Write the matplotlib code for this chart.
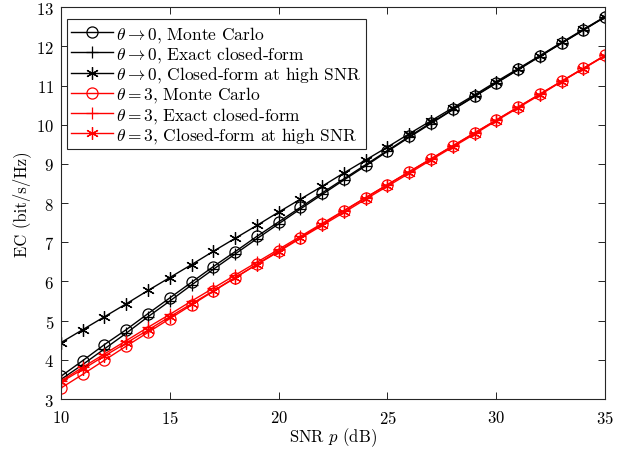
import matplotlib
matplotlib.use("Agg")
import matplotlib.pyplot as plt

plt.rcParams['font.family'] = 'cmr10'
plt.rcParams['mathtext.fontset'] = 'cm'
plt.rcParams['axes.formatter.use_mathtext'] = True

snr_db = list(range(10, 36))

black_mc = [3.58, 3.98, 4.39, 4.77, 5.18, 5.58, 5.98, 6.38, 6.76, 7.15, 7.52, 7.89, 8.26,
            8.62, 8.98, 9.34, 9.70, 10.05, 10.39, 10.73, 11.07, 11.41, 11.75, 12.08, 12.42, 12.75]
black_exact = [3.50, 3.88, 4.28, 4.68, 5.10, 5.50, 5.91, 6.31, 6.70, 7.09, 7.47, 7.85, 8.22,
               8.59, 8.95, 9.32, 9.68, 10.03, 10.38, 10.72, 11.06, 11.40, 11.74, 12.08, 12.41, 12.75]
black_high = [4.44, 4.77, 5.10, 5.43, 5.77, 6.10, 6.43, 6.77, 7.10, 7.43, 7.77, 8.10, 8.43,
              8.77, 9.10, 9.43, 9.77, 10.10, 10.43, 10.76, 11.10, 11.43, 11.76, 12.10, 12.43, 12.76]
red_mc = [3.28, 3.63, 3.99, 4.35, 4.70, 5.05, 5.40, 5.75, 6.09, 6.44, 6.78, 7.12, 7.46,
          7.80, 8.14, 8.47, 8.80, 9.13, 9.46, 9.79, 10.12, 10.45, 10.78, 11.11, 11.44, 11.77]
red_exact = [3.46, 3.81, 4.15, 4.49, 4.83, 5.16, 5.50, 5.83, 6.16, 6.49, 6.82, 7.15, 7.48,
             7.81, 8.14, 8.47, 8.80, 9.13, 9.46, 9.79, 10.12, 10.45, 10.78, 11.11, 11.44, 11.77]
red_high = [3.43, 3.76, 4.10, 4.43, 4.76, 5.10, 5.43, 5.76, 6.10, 6.43, 6.76, 7.10, 7.43,
            7.76, 8.10, 8.43, 8.76, 9.10, 9.43, 9.76, 10.10, 10.43, 10.76, 11.10, 11.43, 11.76]

labels = [r'$\theta \rightarrow 0$, Monte Carlo',
          r'$\theta \rightarrow 0$, Exact closed-form',
          r'$\theta \rightarrow 0$, Closed-form at high SNR',
          r'$\theta = 3$, Monte Carlo',
          r'$\theta = 3$, Exact closed-form',
          r'$\theta = 3$, Closed-form at high SNR']

fig = plt.figure(figsize=(6.35, 4.52), dpi=100)
ax = fig.add_axes([0.096, 0.115, 0.857, 0.867])

series = [(black_mc, 'k', 'o'), (black_exact, 'k', '+'), (black_high, 'k', 'star'),
          (red_mc, 'r', 'o'), (red_exact, 'r', '+'), (red_high, 'r', 'star')]
for (vals, c, m), lab in zip(series, labels):
    if m == 'o':
        kw = dict(marker='o', markersize=8, markerfacecolor='none')
    elif m == '+':
        kw = dict(marker='+', markersize=9)
    else:
        kw = dict(marker=(6, 2, 0), markersize=9)
    ax.plot(snr_db, vals, color=c, linewidth=1.0, label=lab, markeredgewidth=0.9, **kw)

ax.set_xlim(10, 35)
ax.set_ylim(3, 13)
ax.set_xticks([10, 15, 20, 25, 30, 35])
ax.set_yticks(range(3, 14))
ax.tick_params(direction='in', top=True, right=True, labelsize=12, length=5, width=0.6)
ax.tick_params(axis='y', pad=5)
ax.tick_params(axis='x', pad=7)
for s in ax.spines.values():
    s.set_linewidth(0.8)
    s.set_color('#262626')
ax.set_xlabel(r'SNR $p$ (dB)', fontsize=12, labelpad=0)
ax.set_ylabel('EC (bit/s/Hz)', fontsize=12, labelpad=4)

leg = ax.legend(loc='upper left', bbox_to_anchor=(0.011, 0.969), fontsize=12.5,
                frameon=True, fancybox=False, edgecolor='#262626', framealpha=1,
                handlelength=2.4, handletextpad=0.2, borderpad=0.25, labelspacing=0.02,
                borderaxespad=0.0)
leg.get_frame().set_linewidth(0.8)

fig.savefig('out.png', dpi=100)
